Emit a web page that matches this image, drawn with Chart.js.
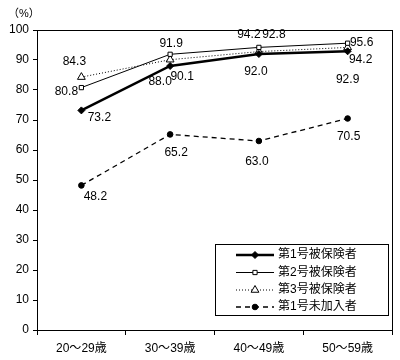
<!DOCTYPE html>
<html><head><meta charset="utf-8">
<script src="https://cdn.jsdelivr.net/npm/chart.js@4.4.1/dist/chart.umd.min.js"></script>
<style>html,body{margin:0;padding:0;background:#fff;}#wrap{width:400px;height:360px;}</style>
</head><body><div id="wrap"><canvas id="c" width="400" height="360"></canvas></div>
<script>
const categories = ['20～29歳','30～39歳','40～49歳','50～59歳'];
const seriesNames = ['第1号被保険者','第2号被保険者','第3号被保険者','第1号未加入者'];
const s1 = [73.2, 88.0, 92.0, 92.9];
const s2 = [80.8, 91.9, 94.2, 95.6];
const s3 = [84.3, 90.1, 92.8, 94.2];
const s4 = [48.2, 65.2, 63.0, 70.5];
const yTicks = [0,10,20,30,40,50,60,70,80,90,100];

// label placement offsets (px) relative to each point
const labelOffsets = [
  [[18,7],[-10,16],[-3,18],[0,28]],
  [[-15,4],[1,-11],[-10,-13],[14,-1]],
  [[-7,-15],[12,17],[15,-17],[13,12]],
  [[14,11],[6,18],[-2,21],[1,18]]
];
const FONT = "'Liberation Sans','Noto Sans CJK JP',sans-serif";

const labelPlugin = {
  id:'labels',
  afterDatasetsDraw(chart){
    const ctx = chart.ctx;
    ctx.save();
    ctx.font = '12px ' + FONT;
    ctx.fillStyle = '#000';
    ctx.textAlign = 'center';
    ctx.textBaseline = 'middle';
    chart.data.datasets.forEach((ds,i)=>{
      const meta = chart.getDatasetMeta(i);
      meta.data.forEach((pt,j)=>{
        const o = labelOffsets[i][j];
        ctx.fillText(ds.data[j].toFixed(1), pt.x + o[0], pt.y + o[1]);
      });
    });
    // frame
    const a = chart.chartArea;
    ctx.strokeStyle = '#000'; ctx.lineWidth = 1;
    ctx.strokeRect(Math.round(a.left)+0.5, Math.round(a.top)+0.5, Math.round(a.right-a.left), Math.round(a.bottom-a.top));
    // "(%)" title
    ctx.textAlign = 'left';
    ctx.font = '11px ' + FONT;
    ctx.fillText('（%）', 8, 14);
    // legend
    const lx = 215.5, ly = 244.5, lw = 173, lh = 71;
    ctx.fillStyle = '#fff';
    ctx.fillRect(lx, ly, lw, lh);
    ctx.strokeRect(lx, ly, lw, lh);
    ctx.font = '12px ' + FONT;
    const rows = [255, 272.5, 290, 307];
    chart.data.datasets.forEach((ds,i)=>{
      const y = rows[i];
      ctx.save();
      ctx.strokeStyle = '#000';
      ctx.lineWidth = ds.borderWidth;
      ctx.setLineDash(ds.borderDash || []);
      ctx.beginPath(); ctx.moveTo(236, y); ctx.lineTo(274, y); ctx.stroke();
      ctx.setLineDash([]);
      ctx.fillStyle = ds.pointBackgroundColor;
      ctx.strokeStyle = '#000';
      ctx.lineWidth = 1;
      Chart.helpers.drawPoint(ctx, {pointStyle: ds.pointStyle, radius: ds.pointRadius, borderWidth: 1}, 255, y);
      ctx.restore();
      ctx.fillStyle = '#000';
      ctx.textAlign = 'left';
      ctx.fillText(ds.label, 278, y);
    });
    ctx.restore();
  }
};

new Chart(document.getElementById('c'), {
  type:'line',
  data:{
    labels: categories,
    datasets:[
      {label:seriesNames[0], data:s1, borderColor:'#000', backgroundColor:'#000', borderWidth:2.5, pointStyle:'rectRot', pointRadius:3.5, pointBorderWidth:1, pointBackgroundColor:'#000'},
      {label:seriesNames[1], data:s2, borderColor:'#000', backgroundColor:'#fff', borderWidth:1, pointStyle:'rect', pointRadius:3, pointBorderWidth:1, pointBackgroundColor:'#fff'},
      {label:seriesNames[2], data:s3, borderColor:'#000', backgroundColor:'#fff', borderWidth:1, borderDash:[1,2], pointStyle:'triangle', pointRadius:4.5, pointBorderWidth:1, pointBackgroundColor:'#fff'},
      {label:seriesNames[3], data:s4, borderColor:'#000', backgroundColor:'#000', borderWidth:1.3, borderDash:[5,4], pointStyle:'circle', pointRadius:2.8, pointBorderWidth:1, pointBackgroundColor:'#000'}
    ]
  },
  options:{
    responsive:false, animation:false,
    layout:{padding:{top:30,right:8,left:0,bottom:0}},
    plugins:{legend:{display:false}, tooltip:{enabled:false}},
    elements:{line:{tension:0}},
    scales:{
      x:{
        offset:true,
        afterFit(s){ s.height = 30; },
        grid:{display:true, offset:true, drawOnChartArea:false, drawTicks:true, tickLength:5, color:'#000'},
        border:{display:true, color:'#000'},
        ticks:{color:'#000', font:{size:12, family:FONT}, padding:6, maxRotation:0}
      },
      y:{
        min:0, max:100,
        afterFit(s){ s.width = 37; },
        afterBuildTicks(s){ s.ticks = yTicks.map(v=>({value:v})); },
        grid:{display:true, drawOnChartArea:false, drawTicks:true, tickLength:4, color:'#000'},
        border:{display:true, color:'#000'},
        ticks:{color:'#000', font:{size:12, family:FONT}, padding:4}
      }
    }
  },
  plugins:[labelPlugin]
});
</script>
</body></html>
